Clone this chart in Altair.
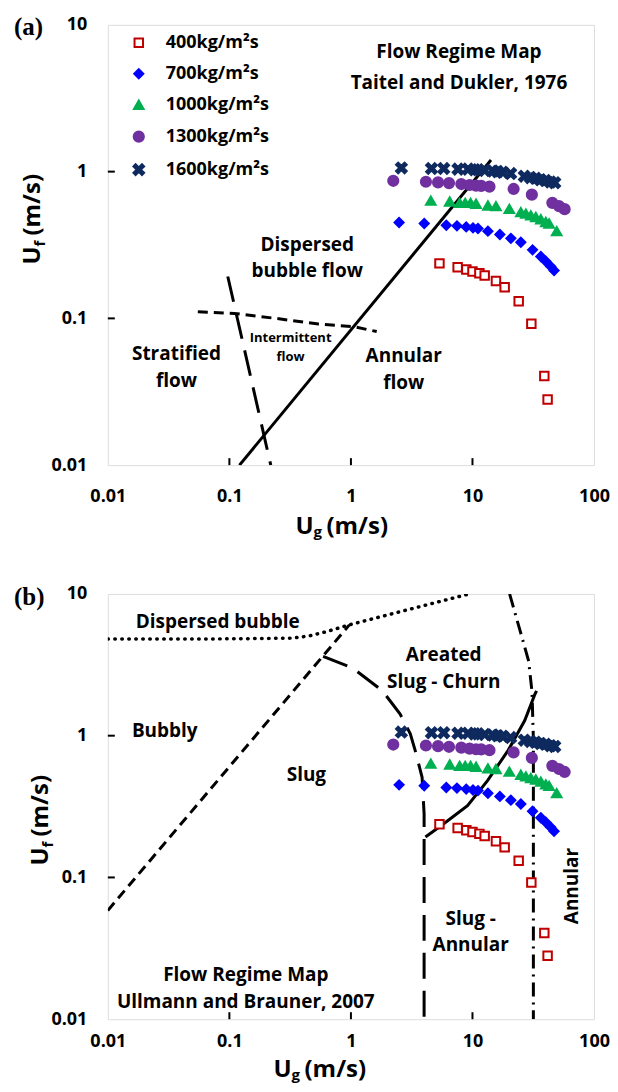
import altair as alt
import pandas as pd

FONT = "Open Sans"

# ---------------- data ----------------
SERIES = ["400kg/m²s", "700kg/m²s", "1000kg/m²s", "1300kg/m²s", "1600kg/m²s"]
COLORS = ["#C00000", "#0000FF", "#00B050", "#7030A0", "#0E2A5E"]
FILLS = ["#FFFFFF", "#0000FF", "#00B050", "#7030A0", "#0E2A5E"]
X_PATH = "M-1,-0.6L-0.6,-1L0,-0.4L0.6,-1L1,-0.6L0.4,0L1,0.6L0.6,1L0,0.4L-0.6,1L-1,0.6L-0.4,0Z"
SHAPES = ["square", "diamond", "triangle-up", "circle", X_PATH]
SIZES = [72, 115, 105, 95, 105]

ug_400 = [5.35, 7.55, 8.9, 10.0, 11.4, 12.6, 15.6, 18.4, 24.0, 30.5, 39.0, 41.5]
uf_400 = [0.237, 0.223, 0.215, 0.209, 0.203, 0.196, 0.180, 0.163, 0.131, 0.092, 0.0405, 0.028]

ug_700 = [2.49, 4.01, 6.09, 7.45, 8.88, 10.1, 11.1, 13.4, 16.8, 20.7, 25.0, 31.2, 36.5, 40.1, 44.0, 46.9]
uf_700 = [0.450, 0.443, 0.431, 0.427, 0.420, 0.414, 0.410, 0.393, 0.373, 0.351, 0.330, 0.293, 0.264, 0.245, 0.226, 0.212]

ug_1000 = [4.54, 6.50, 7.84, 8.71, 9.64, 10.7, 13.4, 15.6, 20.1, 25.0, 27.5, 30.2, 33.2, 36.5, 40.1, 42.7, 49.3]
uf_1000 = [0.635, 0.626, 0.613, 0.613, 0.613, 0.604, 0.588, 0.582, 0.558, 0.530, 0.517, 0.503, 0.491, 0.474, 0.454, 0.443, 0.393]

ug_1300 = [2.23, 4.14, 5.21, 6.41, 8.09, 9.47, 10.7, 11.8, 13.8, 21.8, 30.8, 45.4, 51.5, 57.3]
uf_1300 = [0.866, 0.853, 0.844, 0.835, 0.823, 0.811, 0.802, 0.800, 0.790, 0.762, 0.697, 0.613, 0.582, 0.555]

ug_1600 = [2.6, 4.6, 5.8, 7.6, 9.2, 10.4, 11.1, 12.6, 14.7, 16.1, 17.7, 20.6, 26.7, 30.0, 33.0, 36.2, 39.8, 43.8, 47.5]
uf_1600 = [1.06, 1.05, 1.05, 1.04, 1.04, 1.03, 1.03, 1.02, 1.01, 1.00, 0.99, 0.97, 0.93, 0.91, 0.90, 0.88, 0.87, 0.85, 0.84]

X_TICKS = [0.01, 0.1, 1, 10, 100]
Y_TICKS = [0.01, 0.1, 1, 10]
X_INNER = [0.1, 1, 10]
Y_INNER = [0.1, 1]

# (a) Taitel & Dukler boundaries
a_solid_ug = [0.121, 14.2]
a_solid_uf = [0.01, 1.2]
a_dash_ug = [0.055, 0.11, 0.24, 0.54, 1.05, 1.63]
a_dash_uf = [0.111, 0.108, 0.100, 0.0916, 0.0879, 0.0813]
a_long_ug = [0.097, 0.219]
a_long_uf = [0.193, 0.01]

# (b) Ullmann & Brauner boundaries
b_dot_ug = [0.01, 0.1, 0.33, 0.45, 0.62, 0.97, 9.4]
b_dot_uf = [4.8, 4.82, 4.88, 5.05, 5.4, 6.05, 10.0]
b_dash_ug = [0.01, 0.97]
b_dash_uf = [0.0585, 6.05]
b_long_ug = [0.59, 1.03, 1.81, 2.54, 3.08, 3.38, 3.85, 4.0, 4.0]
b_long_uf = [3.63, 3.01, 2.08, 1.42, 1.03, 0.785, 0.509, 0.281, 0.01]
b_solid_ug = [4.1, 5.8, 9.1, 13.3, 19.6, 26.9, 32.7, 33.7]
b_solid_uf = [0.193, 0.239, 0.321, 0.482, 0.785, 1.28, 1.97, 2.07]
b_dd_ug = [20.2, 24.8, 29.0, 30.9, 31.7, 31.7]
b_dd_uf = [10.0, 5.4, 3.35, 2.03, 0.94, 0.01]

# annotations
a_text = ["Flow Regime Map", "Taitel and Dukler, 1976", "Dispersed", "bubble flow",
          "Stratified", "flow", "Annular", "flow"]
a_text_ug = [7.74, 7.74, 0.437, 0.437, 0.0367, 0.0367, 2.72, 2.72]
a_text_uf = [6.52, 4.0, 0.3168, 0.2108, 0.0568, 0.0376, 0.0551, 0.0365]
a_small = ["Intermittent", "flow"]
a_small_ug = [0.319, 0.319]
a_small_uf = [0.0733, 0.0546]

b_text = ["Dispersed bubble", "Areated", "Slug - Churn", "Bubbly", "Slug", "Slug -",
          "Annular", "Flow Regime Map", "Ullmann and Brauner, 2007"]
b_text_ug = [0.0803, 5.8, 5.8, 0.0294, 0.43, 9.67, 9.67, 0.1365, 0.1365]
b_text_uf = [6.31, 3.68, 2.41, 1.076, 0.527, 0.0507, 0.0332, 0.0205, 0.01327]
b_rot = ["Annular"]
b_rot_ug = [65.3]
b_rot_uf = [0.087]

# ---------------- build ----------------
W = 487
HA = 441
HB = 426
TS = 24  # axis-title font size

xs = alt.Scale(type="log", domain=[0.01, 100], nice=False)
ys = alt.Scale(type="log", domain=[0.01, 10], nice=False)

lab = dict(labelFont=FONT, labelFontSize=18, labelFontWeight="bold", labelColor="black",
           labelFlush=False, labelOverlap=False, ticks=False, grid=False, domain=False, title=None,
           format="~g")
YA = alt.Axis(values=Y_TICKS, labelPadding=21, **lab)


def xaxis(pad):
    return alt.Axis(values=X_TICKS, labelPadding=pad, **lab)


def make_panel(H, xa, layers_fn):
    def X(f="Ug"):
        return alt.X(f + ":Q", scale=xs, axis=xa)

    def Y(f="Uf"):
        return alt.Y(f + ":Q", scale=ys, axis=YA)

    return layers_fn(X, Y)


rows = []
for s, ug, uf in zip(SERIES, [ug_400, ug_700, ug_1000, ug_1300, ug_1600],
                     [uf_400, uf_700, uf_1000, uf_1300, uf_1600]):
    for a, b in zip(ug, uf):
        rows.append({"Ug": a, "Uf": b, "series": s})
df_pts = pd.DataFrame(rows)


def points(X, Y, lx, ly, rowpad, laboff):
    leg = alt.Legend(title=None, orient="none", legendX=lx, legendY=ly, padding=0,
                     labelFont=FONT, labelFontSize=18, labelFontWeight="bold", labelColor="black",
                     symbolStrokeWidth=2, rowPadding=rowpad, labelOffset=laboff, labelLimit=300)
    return alt.Chart(df_pts).mark_point(filled=True, strokeWidth=2, opacity=1).encode(
        x=X(), y=Y(),
        shape=alt.Shape("series:N", scale=alt.Scale(domain=SERIES, range=SHAPES), legend=leg),
        fill=alt.Fill("series:N", scale=alt.Scale(domain=SERIES, range=FILLS), legend=leg),
        stroke=alt.Stroke("series:N", scale=alt.Scale(domain=SERIES, range=COLORS), legend=leg),
        size=alt.Size("series:N", scale=alt.Scale(domain=SERIES, range=SIZES), legend=leg),
    )


def line(X, Y, ug, uf, dash=None, cap="butt", width=3):
    df = pd.DataFrame({"Ug": ug, "Uf": uf, "i": list(range(len(ug)))})
    kw = dict(color="black", strokeWidth=width, clip=True, strokeCap=cap)
    if dash:
        kw["strokeDash"] = dash
    return alt.Chart(df).mark_line(**kw).encode(x=X(), y=Y(), order="i:Q")


def texts(X, Y, t, ug, uf, size=19, angle=0):
    df = pd.DataFrame({"Ug": ug, "Uf": uf, "t": t})
    return alt.Chart(df).mark_text(font=FONT, fontSize=size, fontWeight="bold", color="black",
                                   angle=angle, align="center", baseline="middle").encode(
        x=X(), y=Y(), text="t:N")


def inner_ticks(X, Y, H):
    xt = alt.Chart(pd.DataFrame({"v": X_INNER})).mark_rule(color="black", strokeWidth=2).encode(
        x=X("v"), y=alt.value(H), y2=alt.value(H - 7))
    yt = alt.Chart(pd.DataFrame({"v": Y_INNER})).mark_rule(color="black", strokeWidth=2).encode(
        y=Y("v"), x=alt.value(0), x2=alt.value(7))
    return [xt, yt]


def ptext(t, x, y, size, angle=0, font=FONT, align="left", baseline="alphabetic"):
    return alt.Chart(pd.DataFrame({"t": [t]})).mark_text(
        font=font, fontSize=size, fontWeight="bold", color="black", angle=angle,
        align=align, baseline=baseline).encode(x=alt.value(x), y=alt.value(y), text="t:N")


def titles(H, tag, bx, yU, tag_y, x0, yb):
    out = []
    # y title (rotated), reads bottom to top
    out.append(ptext("U", bx, yU, TS, angle=270))
    out.append(ptext("f", bx + 5, yU - 18, 15, angle=270))
    out.append(ptext("(m/s)", bx, yU - 29, TS, angle=270))
    # x title
    out.append(ptext("U", x0, yb, TS))
    out.append(ptext("g", x0 + 18, yb + 3, 15))
    out.append(ptext("(m/s)", x0 + 31, yb, TS))
    # panel tag
    out.append(ptext(tag, -94, tag_y, 25, font="Liberation Serif", baseline="middle"))
    return out


def layers_a(X, Y):
    return alt.layer(
        *inner_ticks(X, Y, HA),
        line(X, Y, a_solid_ug, a_solid_uf),
        line(X, Y, a_dash_ug, a_dash_uf, [10, 6]),
        line(X, Y, a_long_ug, a_long_uf, [26, 12]),
        texts(X, Y, a_text, a_text_ug, a_text_uf, 19),
        texts(X, Y, a_small, a_small_ug, a_small_uf, 13),
        points(X, Y, 22, 9, 13, 18),
        *titles(HA, "(a)", -68, 240, 2, 188, HA + 69),
    ).properties(width=W, height=HA)


def layers_b(X, Y):
    return alt.layer(
        *inner_ticks(X, Y, HB),
        line(X, Y, b_dot_ug, b_dot_uf, [0.5, 6.5], cap="round", width=3.5),
        line(X, Y, b_dash_ug, b_dash_uf, [10, 6]),
        line(X, Y, b_long_ug, b_long_uf, [26, 12]),
        line(X, Y, b_solid_ug, b_solid_uf),
        line(X, Y, b_dd_ug, b_dd_uf, [14, 6, 2, 6]),
        texts(X, Y, b_text, b_text_ug, b_text_uf, 19),
        texts(X, Y, b_rot, b_rot_ug, b_rot_uf, 19, angle=270),
        points(X, Y, 97, 231, 8, 6),
        *titles(HB, "(b)", -60, 272, 3, 166, HB + 58),
    ).properties(width=W, height=HB)


pa = make_panel(HA, xaxis(22), layers_a)
pb = make_panel(HB, xaxis(13), layers_b)

chart = alt.vconcat(pa, pb, spacing=43).properties(
    padding={"left": 5, "top": 5, "right": 0, "bottom": 2}
).configure_view(stroke="black", strokeWidth=3).configure(background="white")

chart.save("out.html", embed_options={"renderer": "svg", "actions": False})
